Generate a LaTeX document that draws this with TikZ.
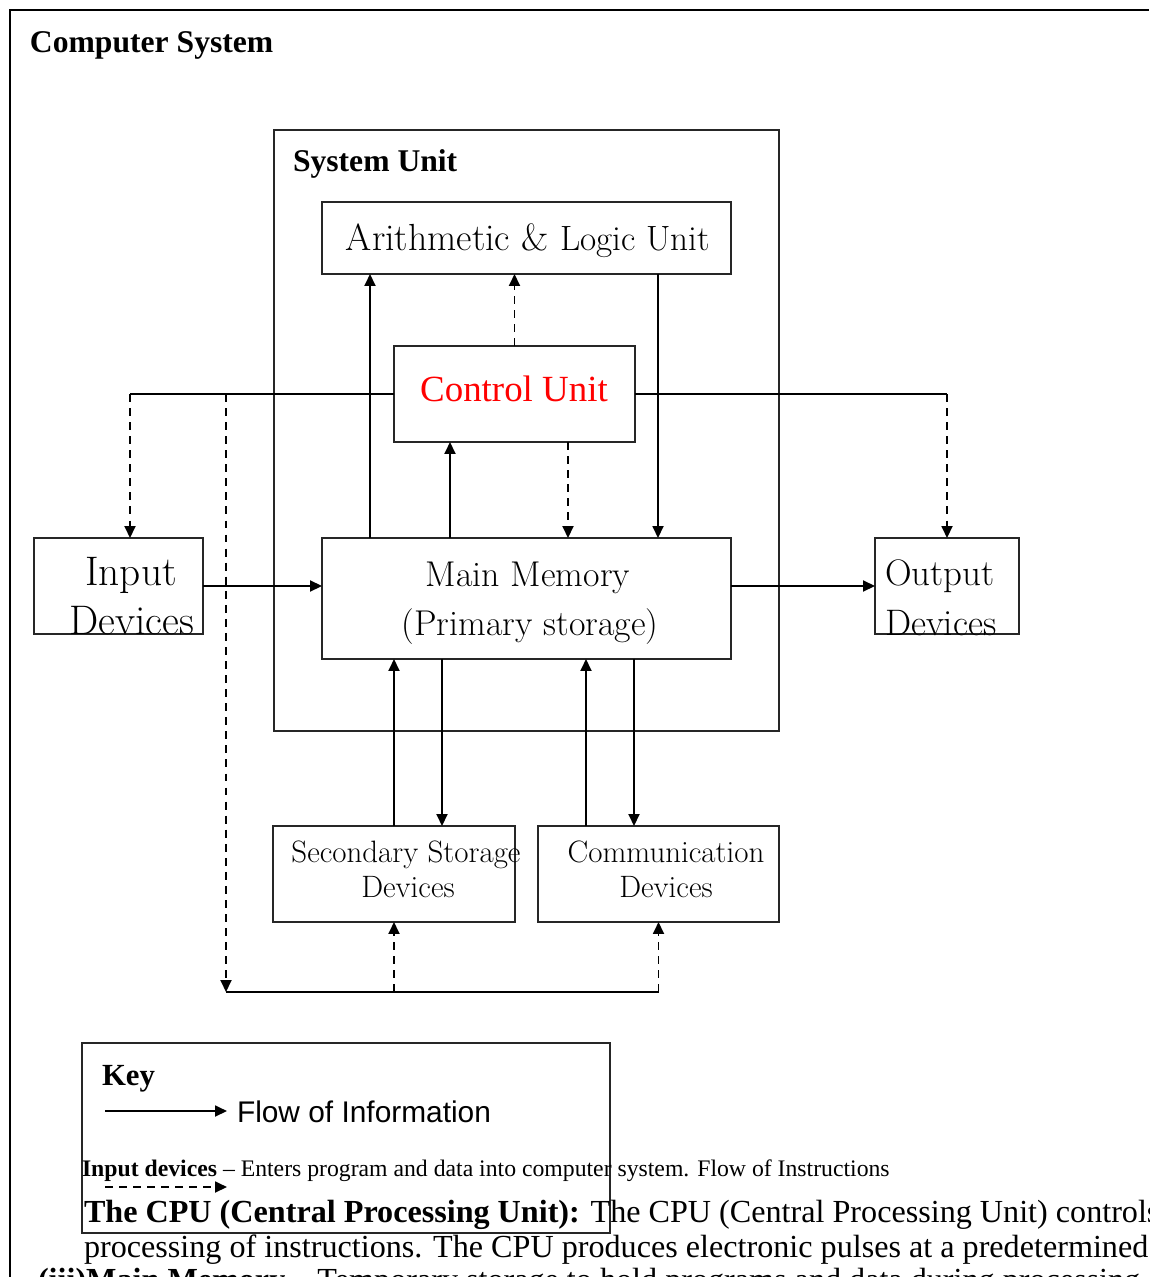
\documentclass[tikz,border=0pt]{standalone}
\usepackage{fontspec}
\newfontfamily\tnr{Liberation Serif}
\newfontfamily\arial{Liberation Sans}
\usetikzlibrary{arrows.meta}
\begin{document}
\begin{tikzpicture}[x=0.02cm,y=-0.02cm,
  box/.style={draw=black!85, line width=1.3pt, inner sep=0pt, outer sep=0pt},
  ln/.style={line width=1.05pt, draw=black},
  arr/.style={ln, -{Triangle[length=2.4mm,width=2.2mm]}},
  darr/.style={arr, dash pattern=on 4.5pt off 3.5pt},
  lbl/.style={inner sep=0pt, outer sep=0pt},
  gar/.style={lbl, font=\fontsize{20.4}{23}\selectfont},
  garsm/.style={lbl, font=\fontsize{17.6}{20}\selectfont},
  hd/.style={lbl, font={\tnr\bfseries\fontsize{18}{21}\selectfont}}
]
\useasboundingbox (0,0) rectangle (1149,1277);
\clip (0,0) rectangle (1149,1277);

% outer frame
\draw[line width=1.6pt] (10,1277) -- (10,10) -- (1149,10);

% boxes
\node[box, minimum width=10.1cm, minimum height=12.02cm] (sys) at (526.5,430.5) {};
\node[box, minimum width=8.18cm, minimum height=1.44cm] (alu) at (526.5,238) {};
\node[box, minimum width=4.82cm, minimum height=1.92cm] (cu) at (514.5,394) {};
\node[box, minimum width=8.18cm, minimum height=2.42cm] (mm) at (526.5,598.5) {};
\node[box, minimum width=3.38cm, minimum height=1.92cm] (in) at (118.5,586) {};
\node[box, minimum width=2.88cm, minimum height=1.92cm] (out) at (947,586) {};
\node[box, minimum width=4.84cm, minimum height=1.92cm] (ssd) at (394,874) {};
\node[box, minimum width=4.82cm, minimum height=1.92cm] (com) at (658.5,874) {};
\node[box, minimum width=10.56cm, minimum height=3.8cm] (key) at (346,1138) {};

% helper x positions
\coordinate (X130) at (130,0);
\coordinate (X226) at (226,0);
\coordinate (X370) at (370,0);
\coordinate (X442) at (442,0);
\coordinate (X450) at (450,0);
\coordinate (X568) at (568,0);
\coordinate (X586) at (586,0);
\coordinate (X634) at (634,0);
\coordinate (X658) at (658,0);
\coordinate (X947) at (947,0);
\coordinate (bus) at (226,992);
\coordinate (busend) at (658.5,992);

% texts
\node[hd, anchor=base west] (title) at (30,53) {Computer System};
\node[hd, anchor=base west] (systxt) at (293,172) {System Unit};
\node[lbl, anchor=base, font=\fontsize{21.5}{24}\selectfont] (alutxt) at (528,251) {Arithmetic \& {\fontsize{20}{23}\selectfont Logic Unit}};
\node[lbl, anchor=base, text=red, font={\tnr\fontsize{21}{24}\selectfont}] (cutxt) at (514,401) {Control Unit};
\node[gar, anchor=base] (mmtxt1) at (528,586) {Main Memory};
\node[gar, anchor=base] (mmtxt2) at (530,635) {(Primary storage)};
\node[lbl, anchor=base, font=\fontsize{23.5}{26}\selectfont] (intxt1) at (131,585) {Input};
\node[lbl, anchor=base, font=\fontsize{23.5}{26}\selectfont] (intxt2) at (132,634) {Devices};
\node[lbl, anchor=base west, font=\fontsize{21}{24}\selectfont] (outtxt1) at (885,585) {Output};
\node[lbl, anchor=base west, font=\fontsize{21}{24}\selectfont] (outtxt2) at (885,635) {Devices};
\node[garsm, anchor=base] (ssdtxt1) at (406,862) {Secondary Storage};
\node[garsm, anchor=base] (ssdtxt2) at (408,897) {Devices};
\node[garsm, anchor=base] (comtxt1) at (666,862) {Communication};
\node[garsm, anchor=base] (comtxt2) at (666,897) {Devices};

% connectors inside system unit
\draw[arr] (mm.north -| X370) -- (alu.south -| X370);
\draw[darr] (cu.north) -- (alu.south -| cu.north);
\draw[arr] (alu.south -| X658) -- (mm.north -| X658);
\draw[arr] (mm.north -| X450) -- (cu.south -| X450);
\draw[darr] (cu.south -| X568) -- (mm.north -| X568);

% control lines to input/output
\draw[ln] (cu.west) -- (cu.west -| X130);
\draw[darr] (cu.west -| X130) -- (in.north -| X130);
\draw[darr] (cu.west -| X226) -- (bus);
\draw[ln] (cu.east) -- (cu.east -| X947);
\draw[darr] (cu.east -| X947) -- (out.north);

% data flow
\draw[arr] (in.east) -- (in.east -| mm.west);
\draw[arr] (out.west -| mm.east) -- (out.west);
\draw[arr] (ssd.north) -- (mm.south -| ssd.north);
\draw[arr] (mm.south -| X442) -- (ssd.north -| X442);
\draw[arr] (com.north -| X586) -- (mm.south -| X586);
\draw[arr] (mm.south -| X634) -- (com.north -| X634);

% bottom bus
\draw[ln] (bus) -- (busend);
\draw[darr] (bus -| ssd.south) -- (ssd.south);
\draw[darr] (busend) -- (com.south);

% key
\node[lbl, anchor=base west, font={\tnr\bfseries\fontsize{17.5}{20}\selectfont}] (keytxt) at (102,1085) {Key};
\coordinate (k1s) at (105,1111);
\coordinate (k1e) at (227,1111);
\draw[arr] (k1s) -- (k1e);
\node[lbl, anchor=base west, font={\arial\fontsize{17}{20}\selectfont}] (flowtxt) at (237,1122) {Flow of Information};
\coordinate (k2s) at (105,1187);
\coordinate (k2e) at (227,1187);
\draw[darr] (k2s) -- (k2e);

% body text
\node[lbl, anchor=base west, font={\tnr\fontsize{13.5}{16}\selectfont}] (indev) at (82,1176) {\textbf{Input devices} – Enters program and data into computer system. Flow of Instructions};
\node[lbl, anchor=base west, font={\tnr\fontsize{18.3}{21}\selectfont}] (cpu1) at (84,1222) {\textbf{The CPU (Central Processing Unit):} The CPU (Central Processing Unit) controls};
\node[lbl, anchor=base west, font={\tnr\fontsize{18.3}{21}\selectfont}] (cpu2) at (84,1257) {processing of instructions. The CPU produces electronic pulses at a predetermined rate};
\node[lbl, anchor=base west, font={\tnr\fontsize{18.3}{21}\selectfont}] (mm3) at (38,1290) {\textbf{(iii)Main Memory} – Temporary storage to hold programs and data during processing};
\end{tikzpicture}
\end{document}
